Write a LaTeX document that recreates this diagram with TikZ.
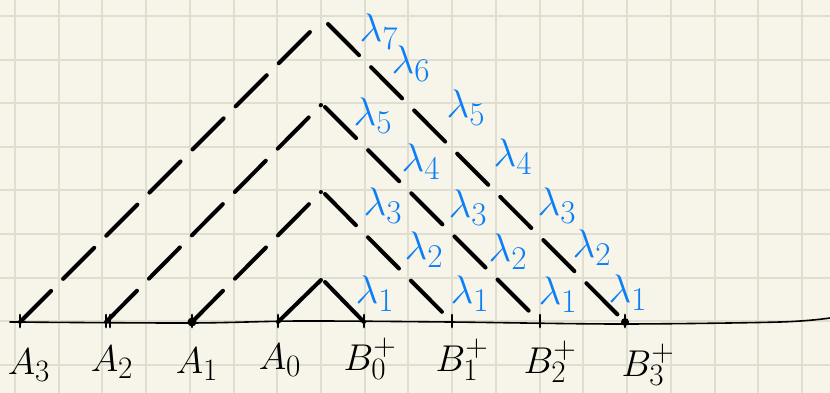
\documentclass[tikz,border=0pt]{standalone}
\definecolor{bg}{RGB}{247,245,233}
\definecolor{gridc}{RGB}{224,222,208}
\definecolor{lblue}{RGB}{12,126,246}
\begin{document}
\begin{tikzpicture}[x=1pt,y=-1pt,line cap=round,line join=round,
  gridline/.style={draw=gridc,line width=2pt},
  sidedash/.style={line width=4pt,dash pattern=on 44pt off 17pt},
  sidesolid/.style={line width=4pt},
  axisline/.style={line width=1.6pt},
  tickmark/.style={line width=2.8pt},
  lam/.style={text=lblue,font=\fontsize{24.88}{25}\selectfont,inner sep=0pt,scale=1.6,transform shape},
  ptlabel/.style={text=black,font=\fontsize{24.88}{25}\selectfont,inner sep=0pt,scale=1.5,transform shape}]
\useasboundingbox (0,0) rectangle (830,393);
\fill[bg] (0,0) rectangle (830,393);
\foreach \i in {0,...,18} \draw[gridline] ({15+43.72*\i},0) -- ({15+43.72*\i},393);
\foreach \j in {0,...,8} \draw[gridline] (0,{16+43.6*\j}) -- (830,{16+43.6*\j});
% points on axis
\coordinate (A3) at (20,322);
\coordinate (A2) at (106,322);
\coordinate (A1) at (192,322);
\coordinate (A0) at (278,322);
\coordinate (B0) at (364,322);
\coordinate (B1) at (452,322);
\coordinate (B2) at (540,322);
\coordinate (B3) at (625,322);
% apexes
\coordinate (T0) at (321,280);
\coordinate (T1) at (321,192);
\coordinate (T2) at (321,105);
\coordinate (T3) at (321,21);
\coordinate (T0r) at (325,282);
\coordinate (T1r) at (325,194);
\coordinate (T2r) at (325,107);
\coordinate (T3r) at (328,24);
% axis
\coordinate (axL) at (10,322);
\coordinate (axR) at (830,318);
\draw[axisline] plot[smooth] coordinates {(axL) (190,323) (300,321) (450,322) (620,324) (780,322) (axR)};
% ticks
\foreach \p in {A3,A2,A1,A0,B0,B1,B2,B3}
  \draw[tickmark] ([yshift=-5pt]\p) -- ([yshift=7pt]\p);
\draw[tickmark] ([xshift=-7pt]A3) -- ([xshift=5pt]A3);
\draw[tickmark] ([xshift=4pt,yshift=-5pt]A2) -- ([xshift=4pt,yshift=7pt]A2);
\fill (A1) circle (4.5pt);
\fill (B3) circle (4pt);
% triangles
\draw[sidesolid] (A0) -- (T0);
\draw[sidesolid] (T0r) -- (B0);
\draw[sidedash] (A1) -- (T1);
\draw[sidedash] (T1r) -- (B1);
\draw[sidedash] (A2) -- (T2);
\draw[sidedash] (T2r) -- (B2);
\draw[sidedash] (A3) -- (T3);
\draw[sidedash] (T3r) -- (B3);
% lambda labels
\node[lam] (l7) at (379,32) {$\lambda_7$};
\node[lam] (l6) at (411,64) {$\lambda_6$};
\node[lam] (l5a) at (373,116) {$\lambda_5$};
\node[lam] (l5b) at (466,108) {$\lambda_5$};
\node[lam] (l4a) at (421,162) {$\lambda_4$};
\node[lam] (l4b) at (513,157) {$\lambda_4$};
\node[lam] (l3a) at (383,206) {$\lambda_3$};
\node[lam] (l3b) at (468,208) {$\lambda_3$};
\node[lam] (l3c) at (557,206) {$\lambda_3$};
\node[lam] (l2a) at (424,250) {$\lambda_2$};
\node[lam] (l2b) at (508,252) {$\lambda_2$};
\node[lam] (l2c) at (592,248) {$\lambda_2$};
\node[lam] (l1a) at (375,294) {$\lambda_1$};
\node[lam] (l1b) at (470,294) {$\lambda_1$};
\node[lam] (l1c) at (558,295) {$\lambda_1$};
\node[lam] (l1d) at (628,293) {$\lambda_1$};
% point labels
\node[ptlabel] (nA3) at (29,365) {$A_3$};
\node[ptlabel] (nA2) at (112,362) {$A_2$};
\node[ptlabel] (nA1) at (197,364) {$A_1$};
\node[ptlabel] (nA0) at (280,360) {$A_0$};
\node[ptlabel] (nB0) at (370,359) {$B_0^+$};
\node[ptlabel] (nB1) at (462,360) {$B_1^+$};
\node[ptlabel] (nB2) at (550,362) {$B_2^+$};
\node[ptlabel] (nB3) at (648,365) {$B_3^+$};
\end{tikzpicture}
\end{document}
